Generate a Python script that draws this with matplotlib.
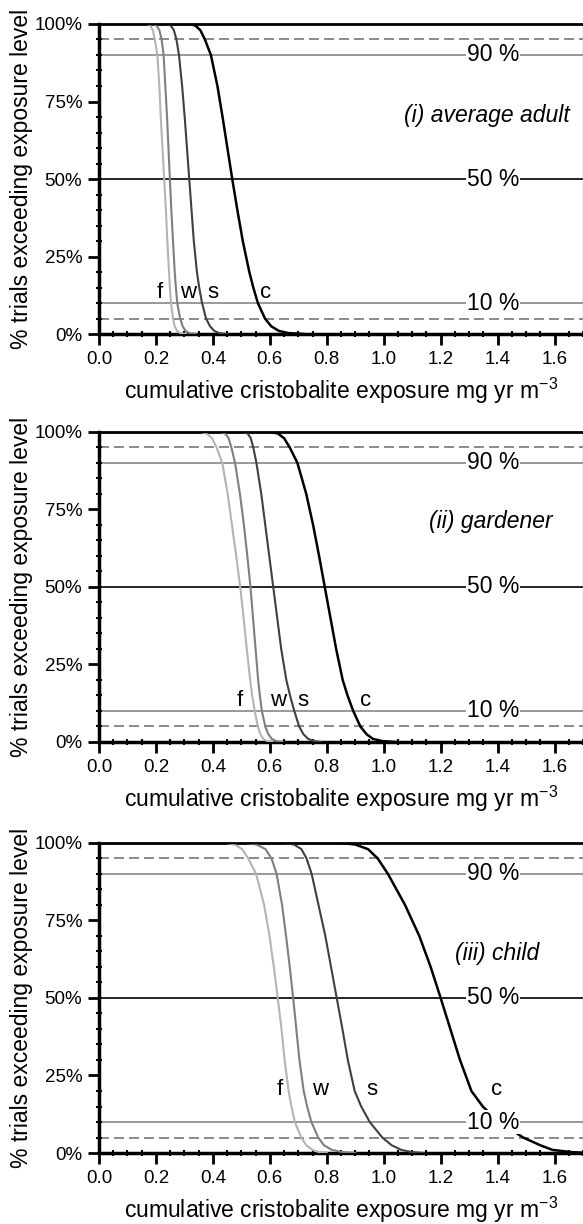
import matplotlib
matplotlib.use("Agg")
import matplotlib.pyplot as plt
from matplotlib.ticker import MultipleLocator, FuncFormatter

plt.rcParams['font.family'] = ['Liberation Sans', 'DejaVu Sans']
plt.rcParams['mathtext.fontset'] = 'custom'
plt.rcParams['mathtext.rm'] = 'Liberation Sans'

levels = [100, 100, 99.5, 98, 95, 90, 80, 70, 60, 50, 40, 30, 20, 15, 10, 5, 2.5, 1, 0.3, 0]

# exposure (mg yr m-3) at each level, first entry is the left edge
adult_f = [0, 0.168, 0.180, 0.189, 0.196, 0.205, 0.212, 0.217, 0.223, 0.229, 0.235, 0.240, 0.246, 0.249, 0.253, 0.260, 0.266, 0.274, 0.285, 0.305]
adult_w = [0, 0.188, 0.202, 0.212, 0.220, 0.227, 0.233, 0.239, 0.244, 0.249, 0.254, 0.260, 0.266, 0.270, 0.275, 0.285, 0.294, 0.304, 0.318, 0.340]
adult_s = [0, 0.238, 0.252, 0.263, 0.272, 0.281, 0.292, 0.301, 0.309, 0.317, 0.325, 0.333, 0.344, 0.352, 0.362, 0.376, 0.390, 0.405, 0.422, 0.450]
adult_c = [0, 0.318, 0.338, 0.356, 0.372, 0.393, 0.416, 0.434, 0.451, 0.468, 0.486, 0.505, 0.528, 0.542, 0.558, 0.583, 0.605, 0.632, 0.665, 0.720]

garden_f = [0, 0.355, 0.378, 0.397, 0.413, 0.433, 0.452, 0.467, 0.482, 0.496, 0.508, 0.519, 0.531, 0.538, 0.547, 0.558, 0.567, 0.577, 0.590, 0.610]
garden_w = [0, 0.425, 0.443, 0.455, 0.465, 0.478, 0.495, 0.509, 0.521, 0.532, 0.541, 0.550, 0.559, 0.565, 0.572, 0.584, 0.595, 0.607, 0.623, 0.645]
garden_s = [0, 0.505, 0.522, 0.533, 0.542, 0.553, 0.570, 0.584, 0.598, 0.612, 0.626, 0.640, 0.658, 0.671, 0.686, 0.703, 0.718, 0.735, 0.755, 0.780]
garden_c = [0, 0.600, 0.628, 0.650, 0.670, 0.697, 0.728, 0.752, 0.773, 0.793, 0.813, 0.833, 0.856, 0.873, 0.893, 0.918, 0.940, 0.962, 0.995, 1.040]

child_f = [0, 0.445, 0.477, 0.503, 0.524, 0.552, 0.580, 0.599, 0.614, 0.628, 0.641, 0.652, 0.666, 0.676, 0.688, 0.710, 0.728, 0.750, 0.772, 0.800]
child_w = [0, 0.515, 0.553, 0.585, 0.606, 0.624, 0.643, 0.657, 0.670, 0.682, 0.693, 0.704, 0.719, 0.731, 0.746, 0.770, 0.790, 0.818, 0.855, 0.900]
child_s = [0, 0.645, 0.685, 0.711, 0.729, 0.747, 0.771, 0.795, 0.815, 0.835, 0.855, 0.874, 0.898, 0.921, 0.951, 0.995, 1.028, 1.062, 1.098, 1.140]
child_c = [0, 0.850, 0.900, 0.945, 0.979, 1.015, 1.075, 1.125, 1.165, 1.200, 1.234, 1.268, 1.308, 1.348, 1.405, 1.490, 1.550, 1.593, 1.660, 1.720]

panel_names = ["(i) average adult", "(ii) gardener", "(iii) child"]
curve_names = ["f", "w", "s", "c"]
curve_colors = ["#b4b4b4", "#7f7f7f", "#404040", "black"]
curve_widths = [1.5, 1.5, 1.5, 1.8]
panels = [[adult_f, adult_w, adult_s, adult_c],
          [garden_f, garden_w, garden_s, garden_c],
          [child_f, child_w, child_s, child_c]]

# where the f/w/s/c letters sit (x, %)
letter_pos = [[(0.214, 13.5), (0.313, 13.5), (0.399, 13.5), (0.585, 13.5)],
              [(0.495, 13.5), (0.629, 13.5), (0.716, 13.5), (0.935, 13.5)],
              [(0.635, 20.5), (0.775, 20.5), (0.957, 20.5), (1.395, 20.5)]]
panel_label_pos = [(1.655, 70.5), (1.594, 71), (1.545, 64.5)]

pct_lines = [90, 50, 10]
dash_lines = [95, 5]

fig = plt.figure(figsize=(5.83, 12.24), dpi=100)
bottoms = [0.7271, 0.3938, 0.0580]

for i in range(3):
    ax = fig.add_axes([0.1698, bottoms[i], 0.8302, 0.2533])
    ax.set_xlim(0, 1.7)
    ax.set_ylim(0, 100)

    for v in dash_lines:
        ax.axhline(v, color="#777777", lw=1.2, dashes=[6, 3], zorder=1)
    for v in pct_lines:
        col = "black" if v == 50 else "#888888"
        ax.axhline(v, color=col, lw=1.2, zorder=1)
        ax.text(1.385, v, "%d %%" % v, fontsize=16.5, ha="center", va="center", zorder=5,
                bbox=dict(facecolor="white", edgecolor="none", pad=0.5))

    for j, xs in enumerate(panels[i]):
        ax.plot(xs, levels, color=curve_colors[j], lw=curve_widths[j], zorder=3,
                solid_joinstyle="round")
        lx, ly = letter_pos[i][j]
        ax.text(lx, ly, curve_names[j], fontsize=16, ha="center", va="center", zorder=4)

    px, py = panel_label_pos[i]
    ax.text(px, py, panel_names[i], fontsize=16.5, style="italic", ha="right", va="center")

    ax.xaxis.set_major_locator(MultipleLocator(0.2))
    ax.xaxis.set_minor_locator(MultipleLocator(0.05))
    ax.yaxis.set_major_locator(MultipleLocator(25))
    ax.yaxis.set_minor_locator(MultipleLocator(5))
    ax.xaxis.set_major_formatter(FuncFormatter(lambda v, p: "%.1f" % v))
    ax.yaxis.set_major_formatter(FuncFormatter(lambda v, p: "%d%%" % v))
    ax.tick_params(which="major", direction="out", length=8, width=2, labelsize=13.5, pad=4)
    ax.tick_params(which="minor", direction="inout", length=4, width=1.5)

    for side in ["left", "bottom"]:
        ax.spines[side].set_linewidth(2.5)
    ax.spines["top"].set_linewidth(2)
    ax.spines["right"].set_color("#999999")
    ax.spines["right"].set_linewidth(1)

    ax.set_xlabel("cumulative cristobalite exposure mg yr m$^{\\mathregular{-3}}$", fontsize=16.5, labelpad=6)
    ax.set_ylabel("% trials exceeding exposure level", fontsize=16.5, labelpad=1)

fig.savefig("out.png", dpi=100)
